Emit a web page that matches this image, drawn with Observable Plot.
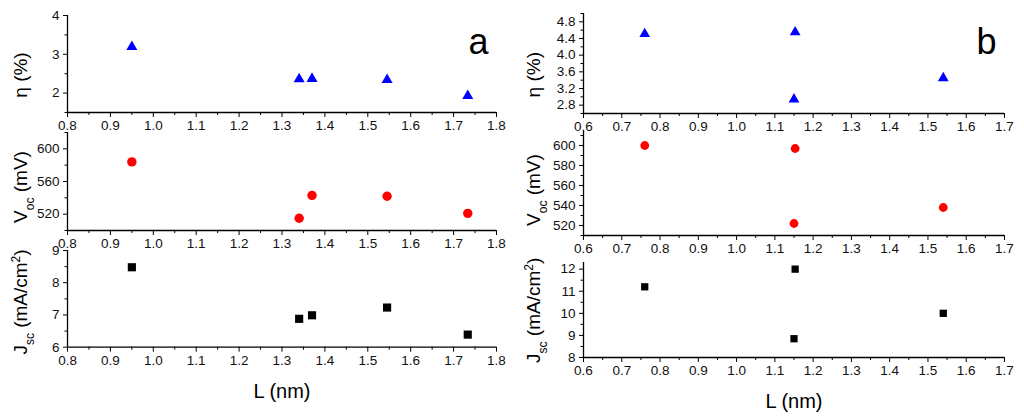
<!DOCTYPE html>
<html><head><meta charset="utf-8">
<script src="https://cdn.jsdelivr.net/npm/d3@7"></script>
<script src="https://cdn.jsdelivr.net/npm/@observablehq/plot@0.6"></script>
<style>
body{margin:0;background:#fff;}
#root{position:relative;width:1024px;height:419px;overflow:hidden;background:#fff;font-family:"Liberation Sans",Arial,sans-serif;}
#root svg{position:absolute;overflow:visible;}
</style></head><body><div id="root"></div>
<script>
// ---- Panel a data ----
const L_a   = [0.95, 1.34, 1.37, 1.545, 1.733];
const eta_a = [3.19, 2.36, 2.37, 2.34, 1.93];
const voc_a = [584, 515, 543, 542, 521];
const jsc_a = [8.48, 6.88, 6.99, 7.23, 6.39];
// ---- Panel b data ----
const L_b   = [0.76, 1.15, 1.153, 1.54];
const eta_b = [4.51, 2.94, 4.55, 3.45];
const voc_b = [600, 522, 597, 538];
const jsc_b = [11.2, 8.85, 12.0, 10.0];
// ---- ticks ----
const xTicks_a = [0.8,0.9,1.0,1.1,1.2,1.3,1.4,1.5,1.6,1.7,1.8];
const xMinor_a = [0.85,0.95,1.05,1.15,1.25,1.35,1.45,1.55,1.65,1.75];
const xTicks_b = [0.6,0.7,0.8,0.9,1.0,1.1,1.2,1.3,1.4,1.5,1.6,1.7];
const xMinor_b = [0.65,0.75,0.85,0.95,1.05,1.15,1.25,1.35,1.45,1.55,1.65];
const etaTicks_a = [2,3,4];          const etaMinor_a = [1.5,2.5,3.5];
const vocTicks_a = [520,560,600];    const vocMinor_a = [500,540,580,620];
const jscTicks_a = [6,7,8,9];        const jscMinor_a = [6.5,7.5,8.5];
const etaTicks_b = [2.8,3.2,3.6,4.0,4.4,4.8]; const etaMinor_b = [2.6,3.0,3.4,3.8,4.2,4.6,5.0];
const vocTicks_b = [520,540,560,580,600];      const vocMinor_b = [510,530,550,570,590,610];
const jscTicks_b = [8,9,10,11,12];             const jscMinor_b = [8.5,9.5,10.5,11.5];

const ETA = [["η (%)"]];
const VOC = [["V"],["oc","sub"],[" (mV)"]];
const JSC = [["J"],["sc","sub"],[" (mA/cm"],["2","sup"],[")"]];

const panels = [
  {left:0, x0:67, x1:496, xDomain:[0.8,1.8], xTicks:xTicks_a, xMinor:xMinor_a, L:L_a, letter:"a", letterDy:27, labelX:27,
   subs:[
     {yTop:15, yBot:112, yDomain:[1.5,4], ticks:etaTicks_a, minor:etaMinor_a, fmt:"d", v:eta_a, symbol:"triangle", fill:"#0000ff", r:4.1, lab:ETA, labY:75},
     {yTop:132, yBot:230, yDomain:[500,620], ticks:vocTicks_a, minor:vocMinor_a, fmt:"d", v:voc_a, symbol:"circle", fill:"#ff0000", r:4.7, lab:VOC, labY:187},
     {yTop:250, yBot:346.7, yDomain:[6,9], ticks:jscTicks_a, minor:jscMinor_a, fmt:"d", v:jsc_a, symbol:"square", fill:"#000000", r:4.6, lab:JSC, labY:302, last:true}
   ]},
  {left:512, x0:583, x1:1004, xDomain:[0.6,1.7], xTicks:xTicks_b, xMinor:xMinor_b, L:L_b, letter:"b", letterDy:28.5, labelX:540,
   subs:[
     {yTop:13.3, yBot:113.3, yDomain:[2.6,5.0], ticks:etaTicks_b, minor:etaMinor_b, fmt:".1f", v:eta_b, symbol:"triangle", fill:"#0000ff", r:4.0, lab:ETA, labY:75},
     {yTop:131, yBot:235, yDomain:[510,614], ticks:vocTicks_b, minor:vocMinor_b, fmt:"d", v:voc_b, symbol:"circle", fill:"#ff0000", r:4.4, lab:VOC, labY:190},
     {yTop:261.7, yBot:356.7, yDomain:[8,12.3], ticks:jscTicks_b, minor:jscMinor_b, fmt:"d", v:jsc_b, symbol:"square", fill:"#000000", r:4.1, lab:JSC, labY:310, last:true}
   ]}
];

const root = document.getElementById("root");
const mt = 12, mb = 64;

function yLabel(svg, cx, cy, parts) {
  const t = d3.select(svg).append("text")
    .attr("transform", `translate(${cx},${cy}) rotate(-90)`)
    .attr("text-anchor", "middle")
    .attr("font-size", 19)
    .attr("font-family", "Liberation Sans, Arial, sans-serif")
    .attr("fill", "#000");
  for (const [s, kind] of parts) {
    const ts = t.append("tspan").text(s);
    if (kind === "sub") ts.attr("baseline-shift", "sub").attr("font-size", 12);
    if (kind === "sup") ts.attr("baseline-shift", "super").attr("font-size", 12);
  }
}

for (const p of panels) {
  p.subs.forEach((s, i) => {
    const data = p.L.map((l, k) => ({L: l, v: s.v[k]}));
    const h = s.yBot - s.yTop;
    const height = mt + h + mb;
    const marks = [
      Plot.ruleY([s.yDomain[0]], {stroke: "#000", strokeWidth: 1.3}),
      Plot.ruleX([p.xDomain[0]], {stroke: "#000", strokeWidth: 1.3}),
      Plot.axisX({ticks: p.xTicks, tickSize: 5, tickPadding: 3, tickFormat: d3.format(".1f"), label: null, fill: "#111"}),
      Plot.axisX({ticks: p.xMinor, tickSize: 3, tickFormat: () => "", label: null}),
      Plot.axisY({ticks: s.ticks, tickSize: 4, tickPadding: 4, tickFormat: d3.format(s.fmt), label: null, fill: "#111"}),
      Plot.axisY({ticks: s.minor, tickSize: 2.5, tickFormat: () => "", label: null}),
      Plot.dot(data, {x: "L", y: "v", symbol: s.symbol, fill: s.fill, r: s.r})
    ];
    if (i === 0) {
      marks.push(Plot.text([p.letter], {frameAnchor: "top-right", dx: -18, dy: p.letterDy, text: d => d, fontSize: 36, textAnchor: "middle", lineAnchor: "middle", fill: "#000"}));
    }
    if (s.last) {
      marks.push(Plot.text(["L (nm)"], {frameAnchor: "bottom", dy: 44, text: d => d, fontSize: 20, textAnchor: "middle", lineAnchor: "middle", fill: "#000"}));
    }
    const svg = Plot.plot({
      width: 512,
      height,
      marginLeft: p.x0 - p.left,
      marginRight: p.left + 512 - p.x1,
      marginTop: mt,
      marginBottom: mb,
      x: {domain: p.xDomain},
      y: {domain: s.yDomain},
      style: {background: "none", fontSize: "13.5px", fontFamily: "Liberation Sans, Arial, sans-serif", color: "#000", overflow: "visible"},
      marks
    });
    yLabel(svg, p.labelX - p.left, s.labY - (s.yTop - mt), s.lab);
    svg.style.left = p.left + "px";
    svg.style.top = (s.yTop - mt) + "px";
    svg.style.position = "absolute";
    root.appendChild(svg);
  });
}
</script></body></html>
